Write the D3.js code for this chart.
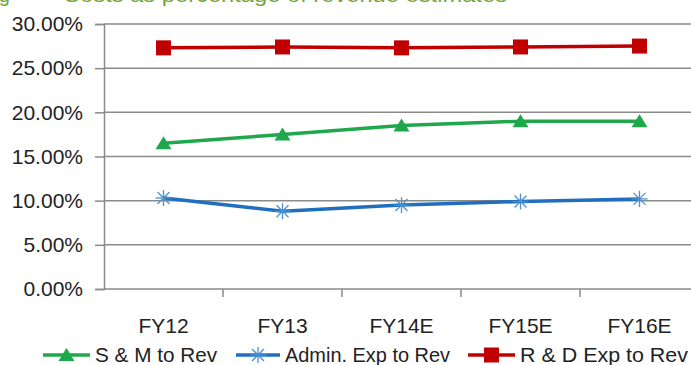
<!DOCTYPE html>
<html><head><meta charset="utf-8">
<script src="https://cdn.jsdelivr.net/npm/d3@7"></script>
<style>
body{margin:0;background:#fff;}
svg{display:block;}
text{font-family:"Liberation Sans Narrow","Arial Narrow","Liberation Sans",sans-serif;fill:#222;}
</style></head><body>
<svg id="c" width="691" height="365"></svg>
<script>
const categories = ["FY12","FY13","FY14E","FY15E","FY16E"];
const smToRev = [16.5, 17.5, 18.5, 19.0, 19.0];
const adminToRev = [10.3, 8.8, 9.5, 9.9, 10.2];
const rdToRev = [27.3, 27.4, 27.3, 27.4, 27.5];
const yTicks = [0,5,10,15,20,25,30];
const seriesNames = ["S & M to Rev","Admin. Exp to Rev","R & D Exp to Rev"];
const titleLead = "Fig";
const titleText = "Costs as percentage of revenue estimates";

(function(){
const svg = d3.select("#c");
const mLeft = 104, mRight = 699, mTop = 24, mBottom = 289;
const x = d3.scaleBand().domain(categories).range([mLeft, mRight]);
const y = d3.scaleLinear().domain([0,30]).range([mBottom, mTop]);

// title (cut at top, as in the reference)
svg.append("text").attr("x", -18).attr("y", 2).style("fill","#77a33a")
  .style("font-size","20px").text(titleLead);
svg.append("text").attr("x", 63).attr("y", 2).style("fill","#77a33a")
  .style("font-size","20px").attr("textLength", 444).attr("lengthAdjust","spacingAndGlyphs")
  .text(titleText);

// grid
svg.append("g").selectAll("line").data(yTicks.filter(d=>d>0)).join("line")
  .attr("x1", mLeft).attr("x2", 691).attr("y1", d=>y(d)).attr("y2", d=>y(d))
  .attr("stroke","#8a8a8a").attr("stroke-width",1.5);

// y axis
const ya = svg.append("g").attr("transform",`translate(${mLeft},0)`)
  .call(d3.axisLeft(y).tickValues(yTicks).tickFormat(d=>d.toFixed(2)+"%").tickSize(9).tickPadding(12));
ya.select(".domain").attr("stroke","#8a8a8a").attr("stroke-width",1.5);
ya.selectAll(".tick line").attr("stroke","#8a8a8a").attr("stroke-width",1.5);
ya.selectAll("text").style("font-size","21px").attr("fill","#222");

// x axis
const xa = svg.append("g").attr("transform",`translate(0,${mBottom})`)
  .call(d3.axisBottom(x).tickSize(0).tickPadding(29));
xa.select(".domain").remove();
svg.append("line").attr("x1",mLeft).attr("x2",691).attr("y1",mBottom).attr("y2",mBottom)
  .attr("stroke","#8a8a8a").attr("stroke-width",1.5);
svg.append("g").selectAll("line").data(categories.slice(1)).join("line")
  .attr("x1",d=>x(d)).attr("x2",d=>x(d)).attr("y1",mBottom).attr("y2",mBottom+8)
  .attr("stroke","#8a8a8a").attr("stroke-width",1.5);
xa.selectAll("text").style("font-size","21px").attr("fill","#222");

const cx = d => x(d) + x.bandwidth()/2;
const series = [
  {name:seriesNames[0], vals:smToRev, color:"#1fa84b", marker:"tri", mcolor:"#1fa84b"},
  {name:seriesNames[1], vals:adminToRev, color:"#1f6fbe", marker:"star", mcolor:"#4a90cf"},
  {name:seriesNames[2], vals:rdToRev, color:"#c00000", marker:"sq", mcolor:"#c00000"}
];
const line = d3.line().x((d,i)=>cx(categories[i])).y(d=>y(d));

function drawMarker(g, type, color){
  if(type==="tri"){
    g.append("path").attr("d","M0,-7 L8,6 L-8,6 Z").attr("fill",color);
  } else if(type==="sq"){
    g.append("rect").attr("x",-7.5).attr("y",-7.5).attr("width",15).attr("height",15).attr("fill",color);
  } else {
    [[-8,0,8,0],[0,-8,0,8],[-6,-6,6,6],[-6,6,6,-6]].forEach(s=>
      g.append("line").attr("x1",s[0]).attr("y1",s[1]).attr("x2",s[2]).attr("y2",s[3])
        .attr("stroke",color).attr("stroke-width",1.3));
  }
}

series.forEach(s=>{
  svg.append("path").datum(s.vals).attr("d",line).attr("fill","none")
    .attr("stroke",s.color).attr("stroke-width",3.5);
  s.vals.forEach((v,i)=>{
    const g = svg.append("g").attr("transform",`translate(${cx(categories[i])},${y(v)})`);
    drawMarker(g, s.marker, s.mcolor);
  });
});

// legend
const legendPos = [{lx:43, tx:95, tl:122},{lx:236, tx:285, tl:165},{lx:468, tx:520, tl:168}];
const ly = 355;
series.forEach((s,i)=>{
  const p = legendPos[i];
  svg.append("line").attr("x1",p.lx).attr("x2",p.tx-5).attr("y1",ly).attr("y2",ly)
    .attr("stroke",s.color).attr("stroke-width",3.5);
  const g = svg.append("g").attr("transform",`translate(${(p.lx+p.tx-5)/2},${ly})`);
  drawMarker(g, s.marker, s.mcolor);
  svg.append("text").attr("x",p.tx).attr("y",ly+7).style("font-size","21px")
    .attr("textLength",p.tl).attr("lengthAdjust","spacingAndGlyphs").text(s.name);
});
})();
</script></body></html>
